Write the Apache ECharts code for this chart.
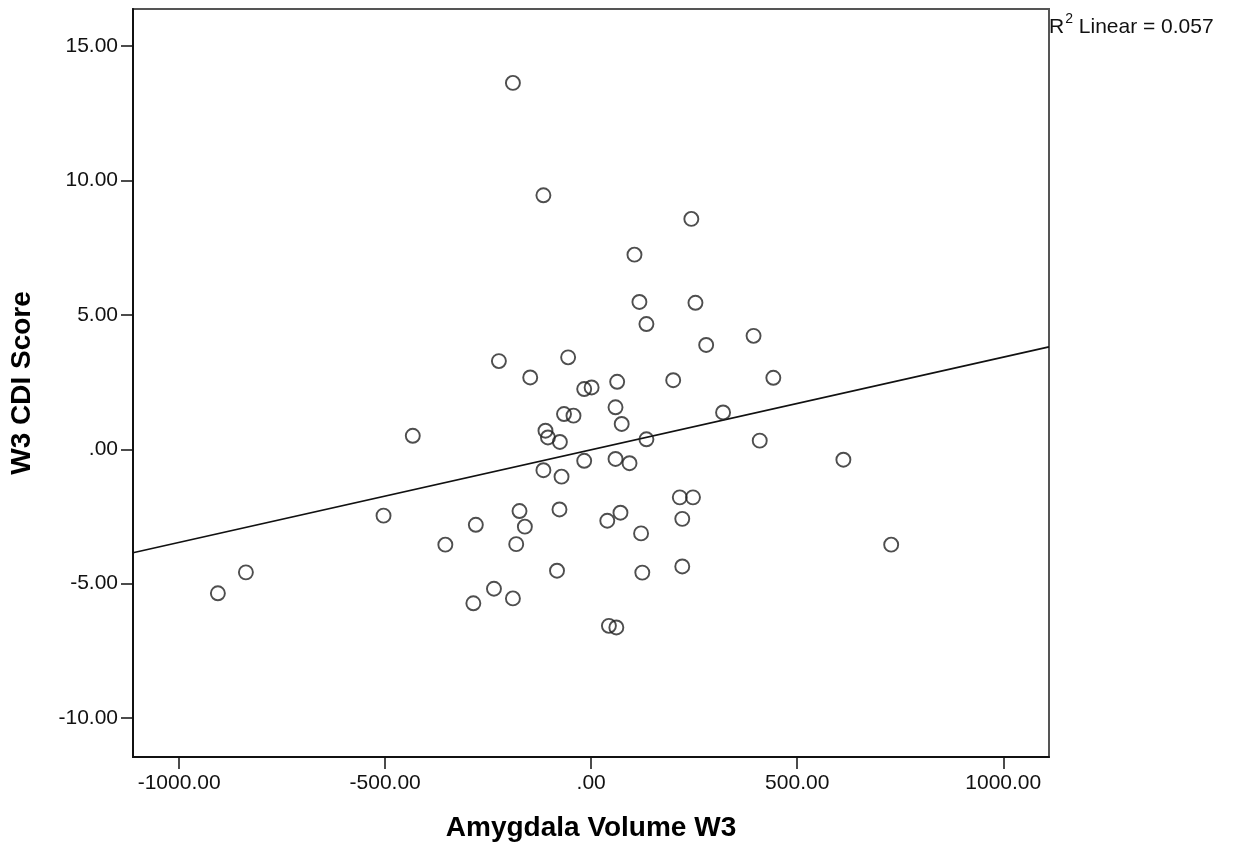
<!DOCTYPE html>
<html>
<head>
<meta charset="utf-8">
<script src="https://cdn.jsdelivr.net/npm/echarts@6/dist/echarts.min.js"></script>
<style>
  html, body { margin: 0; padding: 0; background: #fff; }
  #scatter-chart { width: 1233px; height: 852px; }
</style>
</head>
<body>
<div id="scatter-chart"></div>
<script>
// amygdala volume (x) and CDI score (y)
const volumeW3 = [
  -190, -116, 243, 105, 117, 253, 134, 279, 394, -224,
  -56, -148, -17, 1, 63, 199, 442, 59, 74, -66,
  -43, 320, -433, -111, -105, -76, 134, 409, -17, 59,
  93, -116, -72, 612, 215, 247, -174, -77, 71, 39,
  -280, -161, 221, 121, -354, -182, -504, 728, -83, 124,
  221, -236, -190, -286, 43, 61, -838, -906
]
const cdiW3 = [
  13.63, 9.45, 8.57, 7.24, 5.48, 5.45, 4.66, 3.88, 4.22, 3.28,
  3.42, 2.67, 2.24, 2.30, 2.51, 2.57, 2.66, 1.56, 0.94, 1.31,
  1.25, 1.37, 0.50, 0.69, 0.44, 0.27, 0.37, 0.32, -0.43, -0.36,
  -0.52, -0.78, -1.02, -0.39, -1.79, -1.79, -2.30, -2.24, -2.36, -2.66,
  -2.81, -2.88, -2.59, -3.13, -3.55, -3.53, -2.47, -3.55, -4.52, -4.59,
  -4.36, -5.19, -5.55, -5.73, -6.57, -6.63, -4.58, -5.36
]
// fit line end points, as drawn across the frame
const fitX = [-1112, 1111]
const fitY = [-3.85, 3.81]

const xTicks = [-1000, -500, 0, 500, 1000]
const yTicks = [-10, -5, 0, 5, 10, 15]

let chart = undefined

function fmt(v) {
  return v === 0 ? '.00' : v.toFixed(2)
}

function initChart() {
  chart = echarts.init(document.getElementById('scatter-chart'))

  const font = "'Liberation Sans', Arial, sans-serif"

  const option = {
    animation: false,
    grid: {
      left: 133, right: 184, top: 9, bottom: 95,
      show: true,
      borderColor: '#555',
      borderWidth: 2
    },
    graphic: [{
      type: 'text',
      left: 1049,
      top: 12,
      style: {
        text: '{r|R}{s|2}{r| Linear = 0.057}',
        rich: {
          r: {fontSize: 21, fontFamily: font, fill: '#111', verticalAlign: 'bottom', lineHeight: 26},
          s: {fontSize: 14, fontFamily: font, fill: '#111', verticalAlign: 'top', lineHeight: 26, padding: [0, 0, 9, 1]}
        }
      }
    }],
    xAxis: {
      type: 'value',
      min: -1112,
      max: 1111,
      name: 'Amygdala Volume W3',
      nameLocation: 'middle',
      nameGap: 57,
      nameTextStyle: {fontSize: 28, fontWeight: 'bold', fontFamily: font, color: '#000'},
      splitLine: {show: false},
      axisLine: {show: true, onZero: false, lineStyle: {color: '#111', width: 2}},
      axisTick: {show: true, length: 12, customValues: xTicks, lineStyle: {color: '#111', width: 1.5}},
      axisLabel: {
        customValues: xTicks,
        margin: 16,
        fontSize: 21,
        fontFamily: font,
        color: '#111',
        formatter: fmt
      }
    },
    yAxis: {
      type: 'value',
      min: -11.45,
      max: 16.38,
      name: 'W3 CDI Score',
      nameLocation: 'middle',
      nameGap: 97,
      nameTextStyle: {fontSize: 28, fontWeight: 'bold', fontFamily: font, color: '#000'},
      splitLine: {show: false},
      axisLine: {show: true, onZero: false, lineStyle: {color: '#111', width: 2}},
      axisTick: {show: true, length: 12, customValues: yTicks, lineStyle: {color: '#111', width: 1.5}},
      axisLabel: {
        customValues: yTicks,
        margin: 15,
        fontSize: 21,
        fontFamily: font,
        color: '#111',
        formatter: fmt
      }
    },
    series: [
      {
        type: 'line',
        data: fitX.map((x, i) => [x, fitY[i]]),
        symbol: 'none',
        silent: true,
        lineStyle: {color: '#111', width: 1.6},
        z: 1
      },
      {
        type: 'scatter',
        data: volumeW3.map((x, i) => [x, cdiW3[i]]),
        symbol: 'circle',
        symbolSize: 14,
        itemStyle: {color: 'rgba(0,0,0,0)', borderColor: '#222', borderWidth: 1.9},
        z: 2
      }
    ]
  }

  chart.setOption(option)
}

initChart()
</script>
</body>
</html>
